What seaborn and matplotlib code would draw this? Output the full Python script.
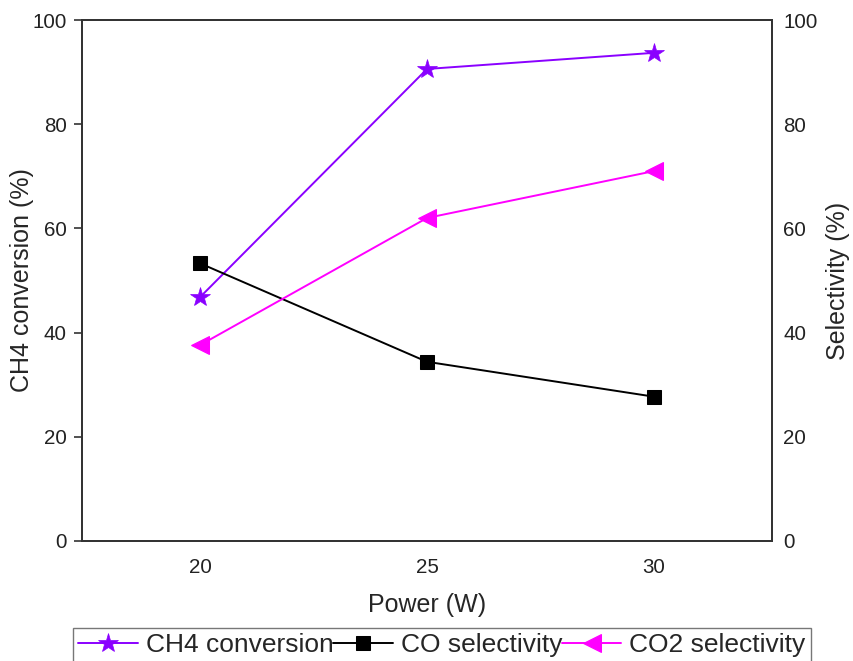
import matplotlib
matplotlib.use("Agg")
import matplotlib.pyplot as plt
import seaborn as sns
import pandas as pd

power = [20, 25, 30]
ch4_conversion = [46.8, 90.6, 93.7]
co_selectivity = [53.3, 34.4, 27.7]
co2_selectivity = [37.6, 62.0, 71.0]

sns.set_theme(style="white")
plt.rcParams['font.family'] = ['Liberation Sans', 'DejaVu Sans']

fig = plt.figure(figsize=(8.54, 6.61), dpi=100)
ax = fig.add_axes([82/854, 1-541/661, (772-82)/854, (541-20)/661])
ax2 = ax.twinx()

df = pd.DataFrame({"power": power, "ch4": ch4_conversion,
                   "co": co_selectivity, "co2": co2_selectivity})

sns.lineplot(data=df, x="power", y="ch4", ax=ax, color="#8A00FF", marker="*",
             markersize=15, markeredgewidth=0.5, markeredgecolor="#8A00FF", linewidth=1.4,
             label="CH4 conversion", legend=False)
sns.lineplot(data=df, x="power", y="co", ax=ax2, color="black", marker="s",
             markersize=10.5, markeredgecolor="black", linewidth=1.4,
             label="CO selectivity", legend=False)
sns.lineplot(data=df, x="power", y="co2", ax=ax2, color="#FF00FF", marker="<",
             markersize=13, markeredgecolor="#FF00FF", linewidth=1.4,
             label="CO2 selectivity", legend=False)

ax.set_xlim(17.4, 32.6)
ax.set_ylim(0, 100)
ax2.set_ylim(0, 100)
ax.set_xticks([20, 25, 30])
ax.set_yticks([0, 20, 40, 60, 80, 100])
ax2.set_yticks([0, 20, 40, 60, 80, 100])

ax.set_xlabel("Power (W)", fontsize=18, labelpad=12)
ax.set_ylabel("CH4 conversion (%)", fontsize=18, labelpad=-1)
ax2.set_ylabel("Selectivity (%)", fontsize=18, labelpad=6)

ax.tick_params(axis='both', direction='out', length=6, width=1.2, labelsize=14.8,
               color='#333333', labelcolor='#222222')
ax.tick_params(axis='x', pad=6)
ax.tick_params(axis='y', pad=5)
ax2.tick_params(axis='y', length=0, labelsize=14.8, pad=8, labelcolor='#222222')

for a in (ax, ax2):
    for s in a.spines.values():
        s.set_visible(True)
        s.set_color('#333333')
        s.set_linewidth(1.3)

h1, l1 = ax.get_legend_handles_labels()
h2, l2 = ax2.get_legend_handles_labels()
leg = fig.legend(h1 + h2, l1 + l2, loc='upper left', bbox_to_anchor=(73/854, 1-628/661),
                 ncol=3, fontsize=19.0, frameon=True, fancybox=False, edgecolor='#555555',
                 handlelength=2.25, handletextpad=0.3, columnspacing=0.0, borderpad=0.2,
                 borderaxespad=0)
leg.get_frame().set_linewidth(1.0)

fig.savefig("out.png", dpi=100)
